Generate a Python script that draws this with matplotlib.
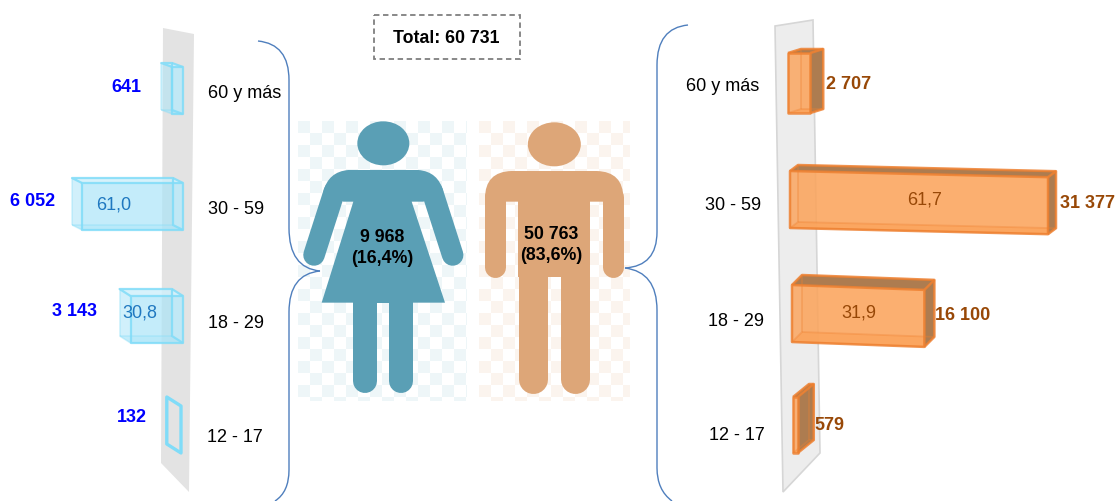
import matplotlib
matplotlib.use("Agg")
import matplotlib.pyplot as plt
from matplotlib.patches import Polygon, Ellipse, Rectangle, PathPatch
from matplotlib.path import Path

ages = ["60 y más", "30 - 59", "18 - 29", "12 - 17"]
women = [641, 6052, 3143, 132]
men = [2707, 31377, 16100, 579]
women_labels = ["641", "6 052", "3 143", "132"]
men_labels = ["2 707", "31 377", "16 100", "579"]
women_pct = [None, "61,0", "30,8", None]
men_pct = [None, "61,7", "31,9", None]
total_label = "Total: 60 731"
women_total = "9 968\n(16,4%)"
men_total = "50 763\n(83,6%)"

plt.rcParams["font.family"] = ["Liberation Sans"]

BLUE_EDGE = "#80dcf8"
ORANGE_EDGE = "#ee8030"
TEAL = "#5a9fb5"
TAN = "#dda678"
BRACE = "#4f7fbd"
BROWN = "#984807"

fig = plt.figure(figsize=(11.17, 5.01), dpi=100)
ax = fig.add_axes([0, 0, 1, 1])
ax.set_xlim(0, 1117)
ax.set_ylim(501, 0)
ax.axis("off")


def px(w):
    return w * 72 / 100


def box(x0, x1, top, bottom, dx, dy, slope, face, side, edge, alpha, lw=1.6):
    f = [(x0, top), (x1, top + (x1 - x0) * slope),
         (x1, bottom + (x1 - x0) * slope), (x0, bottom)]
    b = [(x + dx, y + dy) for x, y in f]
    faces = [
        (b, face, alpha * 0.6),
        ([b[0], b[3], f[3], f[0]], face, alpha * 0.4),
        ([b[3], b[2], f[2], f[3]], face, alpha),
        ([b[0], b[1], f[1], f[0]], side, min(alpha * 1.2, 1)),
        ([b[1], b[2], f[2], f[1]], side, min(alpha * 1.2, 1)),
        (f, face, alpha * 0.8),
    ]
    for pts, col, a in faces:
        ax.add_patch(Polygon(pts, closed=True, fc=col, ec="none", alpha=a))
    # inner edges stay faint, the outline is the strong one
    for pts in [[b[0], b[3]], [b[3], b[2]], [b[3], f[3]]]:
        ax.add_patch(Polygon(pts, closed=False, fill=False, ec=edge, lw=lw * 0.7, alpha=0.35))
    for pts in [[f[0], b[0], b[1], b[2], f[2]], [b[1], f[1]], f]:
        ax.add_patch(Polygon(pts, closed=len(pts) == 4, fill=False, ec=edge, lw=lw,
                             alpha=0.85, joinstyle="round"))


def checker(x0, x1, y0, y1, col, size=12):
    i = 0
    x = x0
    while x < x1:
        j = 0
        y = y0
        while y < y1:
            if (i + j) % 2 == 0:
                ax.add_patch(Rectangle((x, y), min(size, x1 - x), min(size, y1 - y),
                                       fc=col, ec="none"))
            y += size
            j += 1
        x += size
        i += 1


def capsule(x0, y0, x1, y1, width, col):
    ax.plot([x0, x1], [y0, y1], color=col, lw=px(width), solid_capstyle="round")


def curve(points):
    codes = [Path.MOVETO]
    verts = [points[0]]
    for seg in points[1:]:
        if len(seg) == 2 and isinstance(seg[0], tuple):
            verts += list(seg)
            codes += [Path.CURVE3, Path.CURVE3]
        else:
            verts.append(seg)
            codes.append(Path.LINETO)
    return Path(verts, codes)


# gray walls behind the bars
ax.add_patch(Polygon([(163, 28), (194, 34), (189, 492), (161, 463)], fc="#e3e3e3", ec="none"))
ax.add_patch(Polygon([(775, 26), (813, 20), (820, 453), (783, 492)], fc="#ededed", ec="#d6d6d6", lw=1.2))

# women bars, growing left from the wall
scale_w = 101 / 6052
right_w = [183, 183, 183, 181]
tops_w = [67, 183, 296, 406]
bottoms_w = [114, 230, 343, 453]
offs_w = [(-11, -4), (-10, -5), (-11, -7), (-12, -9)]
for v, r, t, b, o in zip(women, right_w, tops_w, bottoms_w, offs_w):
    if v > 200:
        box(r - v * scale_w, r, t, b, o[0], o[1], 0, "#a8e4f8", "#d5f1fb", BLUE_EDGE, 0.6)
    else:
        # too thin to read as a box, only the outline shows
        ax.add_patch(Polygon([(r + o[0] - v * scale_w, t + o[1]), (r, t), (r, b),
                              (r + o[0] - v * scale_w, b + o[1])],
                             fill=False, ec=BLUE_EDGE, lw=2.4, joinstyle="round"))

# men bars, growing right from the wall
scale_m = 258 / 31377
left_m = [788, 790, 792, 793]
tops_m = [53, 171, 285, 397]
bottoms_m = [113, 228, 342, 453]
offs_m = [(13, -4), (8, -6), (10, -10), (16, -13)]
slopes_m = [0.0, 0.024, 0.037, 0.0]
for v, l, t, b, o, s in zip(men, left_m, tops_m, bottoms_m, offs_m, slopes_m):
    box(l, l + v * scale_m, t, b, o[0], o[1], s, "#fba45c", "#ad7c50", ORANGE_EDGE, 0.9, lw=1.8)

# checker backgrounds
checker(298, 467, 121, 401, "#eef6f8")
checker(479, 630, 121, 401, "#fbf4ee")


def zf(x, y):
    return (290 + x / 3, 110 + y / 3)


# woman figure
ax.add_patch(Ellipse(zf(280, 100), 52, 44, fc=TEAL, ec="none"))
body = curve([zf(175, 180), zf(385, 180), (zf(445, 185), zf(460, 245)), zf(400, 275), zf(365, 275),
              zf(465, 578), zf(95, 578), zf(190, 275), zf(160, 275), zf(100, 245),
              (zf(115, 185), zf(175, 180))])
ax.add_patch(PathPatch(body, fc=TEAL, ec="none"))
capsule(*zf(133, 245), *zf(72, 435), 21.5, TEAL)
capsule(*zf(427, 245), *zf(488, 435), 21.5, TEAL)
capsule(*zf(226, 570), *zf(226, 814), 24, TEAL)
capsule(*zf(333, 570), *zf(333, 814), 24, TEAL)
ax.add_patch(Polygon([zf(190, 560), zf(368, 560), zf(368, 578), zf(190, 578)], fc=TEAL, ec="none"))

# man figure
ax.add_patch(Ellipse(zf(793, 103), 53, 44, fc=TAN, ec="none"))
body = curve([zf(665, 183), zf(920, 183), (zf(1000, 185), zf(1000, 265)), zf(1000, 275), zf(585, 275),
              zf(585, 265), (zf(585, 185), zf(665, 183))])
ax.add_patch(PathPatch(body, fc=TAN, ec="none"))
capsule(*zf(616, 260), *zf(616, 472), 21, TAN)
capsule(*zf(968, 260), *zf(968, 472), 21, TAN)
ax.add_patch(Rectangle(zf(685, 250), 215 / 3, 250 / 3, fc=TAN, ec="none"))
capsule(*zf(729, 490), *zf(729, 808), 29, TAN)
capsule(*zf(856, 490), *zf(856, 808), 29, TAN)

# braces
for pts in [
    [(258, 41), ((289, 44), (289, 80)), (289, 228), ((289, 268), (320, 271))],
    [(320, 271), ((289, 274), (289, 312)), (289, 470), ((289, 492), (275, 501))],
    [(688, 25), ((657, 28), (657, 65)), (657, 232), ((657, 266), (625, 268))],
    [(625, 268), ((657, 272), (657, 310)), (657, 468), ((657, 490), (672, 501))],
]:
    ax.add_patch(PathPatch(curve(pts), fc="none", ec=BRACE, lw=1.0))

# total box
ax.add_patch(Rectangle((374, 15), 146, 44, fc="white", ec="#7f7f7f", lw=1.3, ls=(0, (3, 2))))
ax.text(446, 38, total_label, ha="center", va="center", fontsize=12.8, fontweight="bold")

# texts
w_xy = [(126, 87), (33, 201), (74, 311), (132, 418)]
for s, (x, y) in zip(women_labels, w_xy):
    ax.text(x, y, s, color="#0000ff", fontsize=13, fontweight="bold", ha="center", va="center")
m_xy = [(849, 84), (1088, 204), (963, 316), (829, 425)]
for s, (x, y) in zip(men_labels, m_xy):
    ax.text(x, y, s, color=BROWN, fontsize=13, fontweight="bold", ha="center", va="center")
wp_xy = [None, (114, 205), (140, 313), None]
for s, xy in zip(women_pct, wp_xy):
    if s:
        ax.text(xy[0], xy[1], s, color="#1f78c0", fontsize=13, ha="center", va="center")
mp_xy = [None, (925, 200), (859, 313), None]
for s, xy in zip(men_pct, mp_xy):
    if s:
        ax.text(xy[0], xy[1], s, color=BROWN, fontsize=13, ha="center", va="center")
left_xy = [(245, 93), (236, 210), (236, 324), (235, 437)]
right_xy = [(723, 86), (733, 205), (736, 321), (737, 435)]
for s, a, b in zip(ages, left_xy, right_xy):
    ax.text(a[0], a[1], s, fontsize=13, ha="center", va="center", color="black")
    ax.text(b[0], b[1], s, fontsize=13, ha="center", va="center", color="black")

ax.text(382, 248, women_total, fontsize=12.8, fontweight="bold", ha="center", va="center", linespacing=1.35)
ax.text(551, 245, men_total, fontsize=12.8, fontweight="bold", ha="center", va="center", linespacing=1.3)

fig.savefig("out.png", dpi=100)
